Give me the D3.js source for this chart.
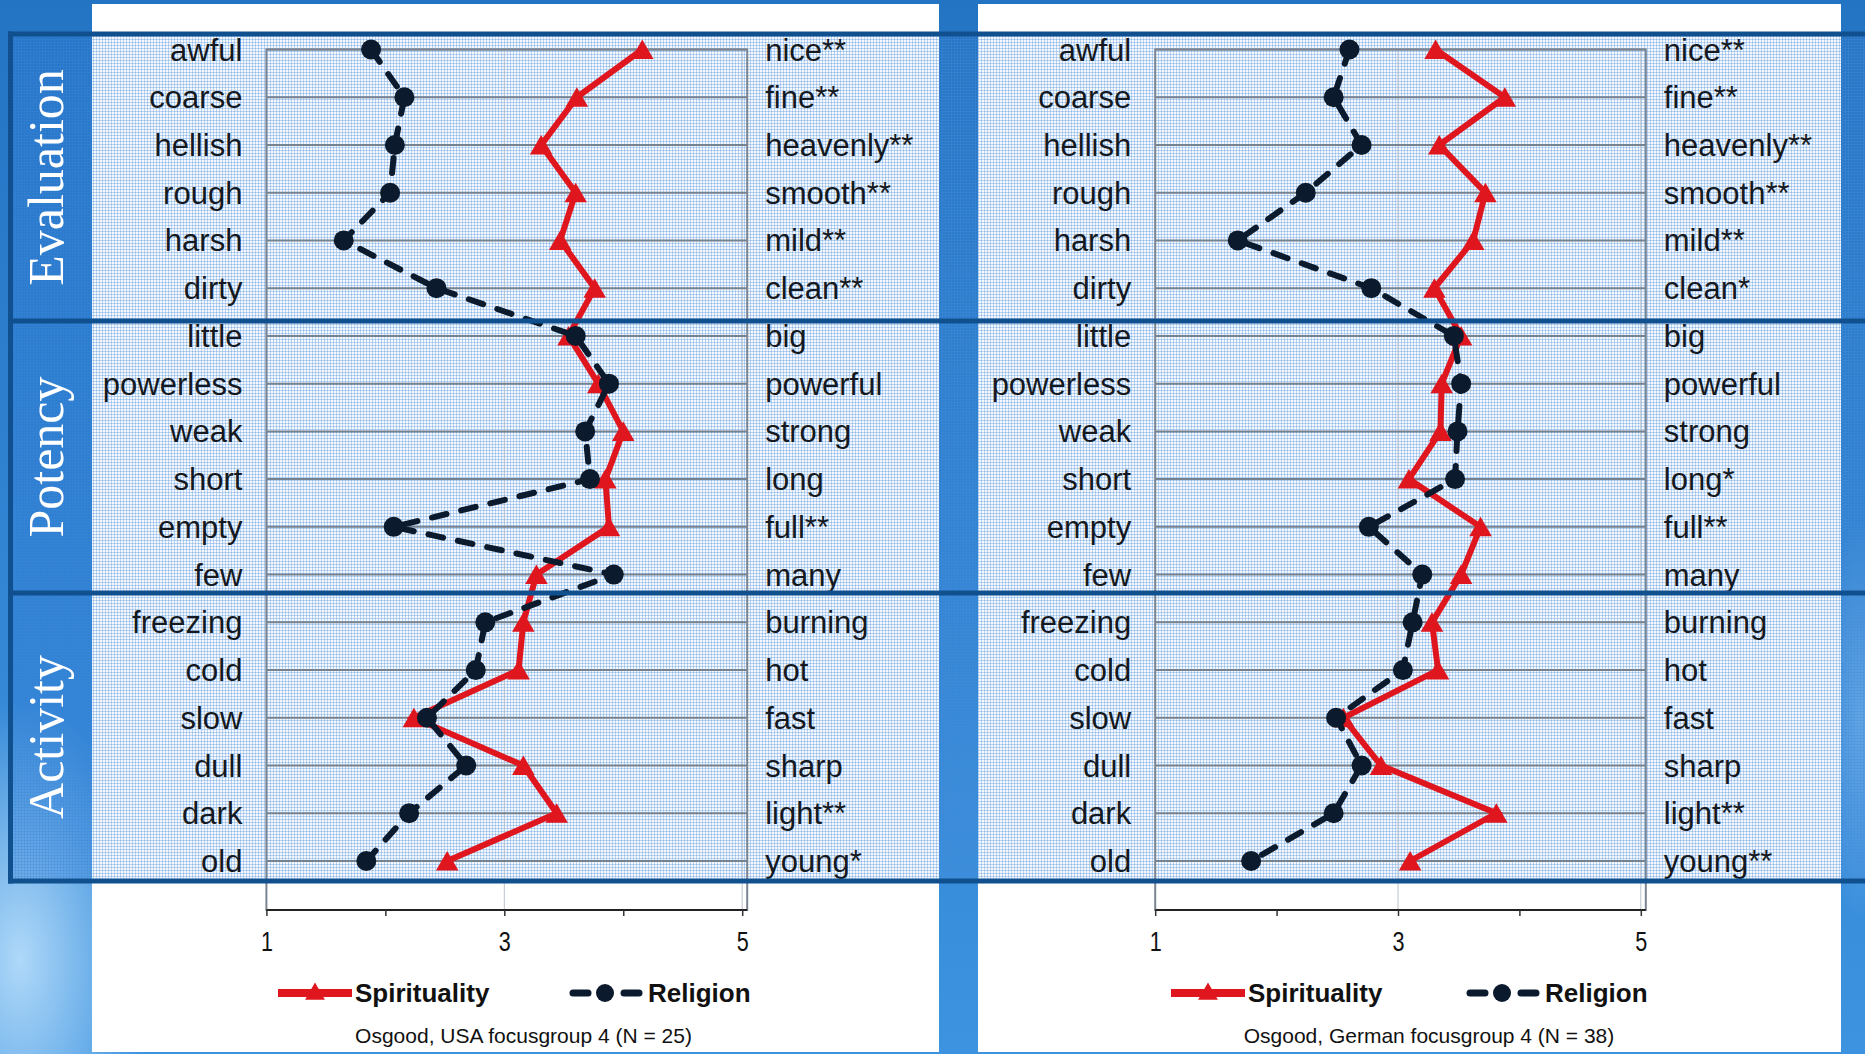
<!DOCTYPE html>
<html><head><meta charset="utf-8">
<script src="https://cdn.jsdelivr.net/npm/d3@7"></script>
<style>html,body{margin:0;padding:0;background:#2a7ccc;overflow:hidden;} svg{display:block;}</style>
</head><body>
<svg id="chart" width="1865" height="1054"></svg>
<script>
// ---------- data ----------
const leftTerms = ["awful","coarse","hellish","rough","harsh","dirty","little","powerless","weak","short","empty","few","freezing","cold","slow","dull","dark","old"];
const rightTermsUSA = ["nice**","fine**","heavenly**","smooth**","mild**","clean**","big","powerful","strong","long","full**","many","burning","hot","fast","sharp","light**","young*"];
const rightTermsGER = ["nice**","fine**","heavenly**","smooth**","mild**","clean*","big","powerful","strong","long*","full**","many","burning","hot","fast","sharp","light**","young**"];
const dimensions = ["Evaluation","Potency","Activity"];
const usaSpirituality = [4.16,3.61,3.31,3.60,3.47,3.76, 3.54,3.79,4.00,3.85,3.88,3.27, 3.16,3.12,2.24,3.16,3.44,2.52];
const usaReligion     = [1.88,2.16,2.08,2.04,1.65,2.43, 3.60,3.88,3.68,3.72,2.07,3.92, 2.84,2.76,2.35,2.68,2.20,1.84];
const gerSpirituality = [3.31,3.88,3.34,3.72,3.62,3.30, 3.52,3.36,3.35,3.09,3.68,3.52, 3.28,3.33,2.55,2.86,3.81,3.10];
const gerReligion     = [2.60,2.47,2.70,2.24,1.68,2.78, 3.46,3.52,3.49,3.47,2.76,3.20, 3.12,3.04,2.49,2.70,2.47,1.79];
const xTicks = [1,2,3,4,5];
const xTickLabels = ["1","","3","","5"];
const seriesNames = ["Spirituality","Religion"];
const captions = ["Osgood, USA focusgroup 4 (N = 25)","Osgood, German focusgroup 4 (N = 38)"];

// ---------- layout ----------
const W = 1865, H = 1054;
const RED = "#e0161e", NAVY = "#0b1a2c", BANDLINE = "#10508f";
const svg = d3.select("#chart");
const defs = svg.append("defs");

const bg = defs.append("linearGradient").attr("id","bg").attr("x1",0).attr("y1",0).attr("x2",0).attr("y2",1);
bg.append("stop").attr("offset","0%").attr("stop-color","#2474c4");
bg.append("stop").attr("offset","100%").attr("stop-color","#3d93e0");
const cloud = defs.append("radialGradient").attr("id","cloud");
cloud.append("stop").attr("offset","0%").attr("stop-color","#b5dcfa").attr("stop-opacity",0.95);
cloud.append("stop").attr("offset","100%").attr("stop-color","#b5dcfa").attr("stop-opacity",0);
const pat = defs.append("pattern").attr("id","grid").attr("width",3).attr("height",3).attr("patternUnits","userSpaceOnUse");
pat.append("rect").attr("width",3).attr("height",3).attr("fill","rgba(70,140,215,0.06)");
pat.append("rect").attr("width",3).attr("height",1).attr("fill","rgba(70,140,215,0.33)");
pat.append("rect").attr("width",1).attr("height",3).attr("fill","rgba(70,140,215,0.33)");

svg.append("rect").attr("width",W).attr("height",H).attr("fill","url(#bg)");
svg.append("ellipse").attr("cx",20).attr("cy",960).attr("rx",130).attr("ry",260).attr("fill","url(#cloud)");
svg.append("ellipse").attr("cx",1860).attr("cy",720).attr("rx",40).attr("ry",200).attr("fill","url(#cloud)").attr("opacity",0.4);

const panels = [
  {px0:92, px1:939, xr:[266.4,742.2], right:rightTermsUSA, spi:usaSpirituality, rel:usaReligion, cap:captions[0], capX:523.5, legS:278, legR:569},
  {px0:978, px1:1841, xr:[1155.2,1640.8], right:rightTermsGER, spi:gerSpirituality, rel:gerReligion, cap:captions[1], capX:1429, legS:1171, legR:1466}
];
panels.forEach(p => svg.append("rect").attr("x",p.px0).attr("y",4).attr("width",p.px1-p.px0).attr("height",1048).attr("fill","#ffffff"));

// band overlay
const bandEdges = [34, 321, 593, 881];
svg.append("rect").attr("x",13).attr("y",bandEdges[0]).attr("width",W-13).attr("height",bandEdges[3]-bandEdges[0]).attr("fill","url(#grid)");
svg.append("rect").attr("x",13).attr("y",bandEdges[0]).attr("width",79).attr("height",bandEdges[3]-bandEdges[0]).attr("fill","rgba(40,120,210,0.25)");

const y = d3.scalePoint().domain(leftTerms).range([49.5, 861]);
const axisY = 910;

panels.forEach((p, pi) => {
  const x = d3.scaleLinear().domain([1,5]).range(p.xr);
  const frameR = p.xr[1] + 5;
  const g = svg.append("g");
  g.selectAll("line.vg").data([3,5]).join("line")
    .attr("x1",d=>x(d)).attr("x2",d=>x(d)).attr("y1",y(leftTerms[0])).attr("y2",axisY)
    .attr("stroke","#b9c2cc").attr("stroke-width",1);
  g.selectAll("line.hg").data(leftTerms).join("line")
    .attr("x1",x(1)).attr("x2",frameR).attr("y1",d=>y(d)).attr("y2",d=>y(d))
    .attr("stroke","#75828f").attr("stroke-width",2);
  g.append("rect").attr("x",x(1)).attr("y",y(leftTerms[0])).attr("width",frameR-x(1)).attr("height",axisY-y(leftTerms[0]))
    .attr("fill","none").attr("stroke","#7a8591").attr("stroke-width",2);
  const ax = d3.axisBottom(x).tickValues(xTicks).tickSize(6).tickFormat((d,i)=>xTickLabels[i]);
  const axg = g.append("g").attr("transform",`translate(0,${axisY})`).call(ax);
  axg.attr("font-size",27).attr("font-family","Liberation Sans, Arial, sans-serif");
  axg.select(".domain").attr("stroke","#222").attr("stroke-width",2).attr("d",`M${x(1)},0H${frameR}`);
  axg.selectAll(".tick line").attr("stroke","#333").attr("stroke-width",1.5);
  axg.selectAll(".tick text").attr("font-size",27).attr("fill","#111").attr("dy",null).attr("y",0)
    .attr("transform","translate(0,41) scale(0.8,1)");

  g.selectAll("text.ll").data(leftTerms).join("text")
    .attr("x",x(1)-24).attr("y",d=>y(d)+11).attr("text-anchor","end")
    .attr("font-family","Liberation Sans, Arial, sans-serif").attr("font-size",31).attr("fill","#141820").text(d=>d);
  g.selectAll("text.rl").data(p.right).join("text")
    .attr("x",p.xr[1]+23).attr("y",(d,i)=>y(leftTerms[i])+11).attr("text-anchor","start")
    .attr("font-family","Liberation Sans, Arial, sans-serif").attr("font-size",31).attr("fill","#141820").text(d=>d);

  const line = d3.line().x(d=>x(d.v)).y(d=>y(d.t));
  const spi = p.spi.map((v,i)=>({v, t:leftTerms[i]}));
  const rel = p.rel.map((v,i)=>({v, t:leftTerms[i]}));
  g.append("path").datum(spi).attr("d",line).attr("fill","none").attr("stroke",RED).attr("stroke-width",6).attr("stroke-linejoin","miter");
  const tri = d3.symbol(d3.symbolTriangle, 220);
  g.selectAll("path.tri").data(spi).join("path").attr("d",tri)
    .attr("transform",d=>`translate(${x(d.v)},${y(d.t)+3})`).attr("fill",RED);
  g.append("path").datum(rel).attr("d",line).attr("fill","none").attr("stroke",NAVY).attr("stroke-width",6)
    .attr("stroke-dasharray","15,15").attr("stroke-linecap","round");
  g.selectAll("circle.rel").data(rel).join("circle").attr("cx",d=>x(d.v)).attr("cy",d=>y(d.t)).attr("r",10).attr("fill",NAVY);

  const ly = 993;
  g.append("line").attr("x1",p.legS).attr("x2",p.legS+74).attr("y1",ly).attr("y2",ly).attr("stroke",RED).attr("stroke-width",8);
  g.append("path").attr("d",d3.symbol(d3.symbolTriangle,170)).attr("transform",`translate(${p.legS+37},${ly+1})`).attr("fill",RED);
  g.append("text").attr("x",p.legS+77).attr("y",ly+9).attr("font-family","Liberation Sans, Arial, sans-serif")
    .attr("font-weight","bold").attr("font-size",26).attr("fill","#111").text(seriesNames[0]);
  g.append("line").attr("x1",p.legR+4).attr("x2",p.legR+19).attr("y1",ly).attr("y2",ly).attr("stroke",NAVY).attr("stroke-width",7).attr("stroke-linecap","round");
  g.append("circle").attr("cx",p.legR+36).attr("cy",ly).attr("r",9).attr("fill",NAVY);
  g.append("line").attr("x1",p.legR+55).attr("x2",p.legR+70).attr("y1",ly).attr("y2",ly).attr("stroke",NAVY).attr("stroke-width",7).attr("stroke-linecap","round");
  g.append("text").attr("x",p.legR+79).attr("y",ly+9).attr("font-family","Liberation Sans, Arial, sans-serif")
    .attr("font-weight","bold").attr("font-size",26).attr("fill","#111").text(seriesNames[1]);
  g.append("text").attr("x",p.capX).attr("y",1043).attr("text-anchor","middle").attr("font-family","Liberation Sans, Arial, sans-serif")
    .attr("font-size",21).attr("fill","#111").text(p.cap);
});

svg.selectAll("line.band").data(bandEdges).join("line")
  .attr("x1",8).attr("x2",W).attr("y1",d=>d).attr("y2",d=>d).attr("stroke",BANDLINE).attr("stroke-width",5);
svg.append("line").attr("x1",10.5).attr("x2",10.5).attr("y1",bandEdges[0]-2.5).attr("y2",bandEdges[3]+2.5).attr("stroke",BANDLINE).attr("stroke-width",5);

svg.selectAll("text.dim").data(dimensions).join("text")
  .attr("transform",(d,i)=>`translate(63,${(bandEdges[i]+bandEdges[i+1])/2}) rotate(-90)`)
  .attr("text-anchor","middle").attr("font-family","Liberation Serif, Times New Roman, serif")
  .attr("font-size",50).attr("fill","#ffffff").text(d=>d);
</script>
</body></html>
